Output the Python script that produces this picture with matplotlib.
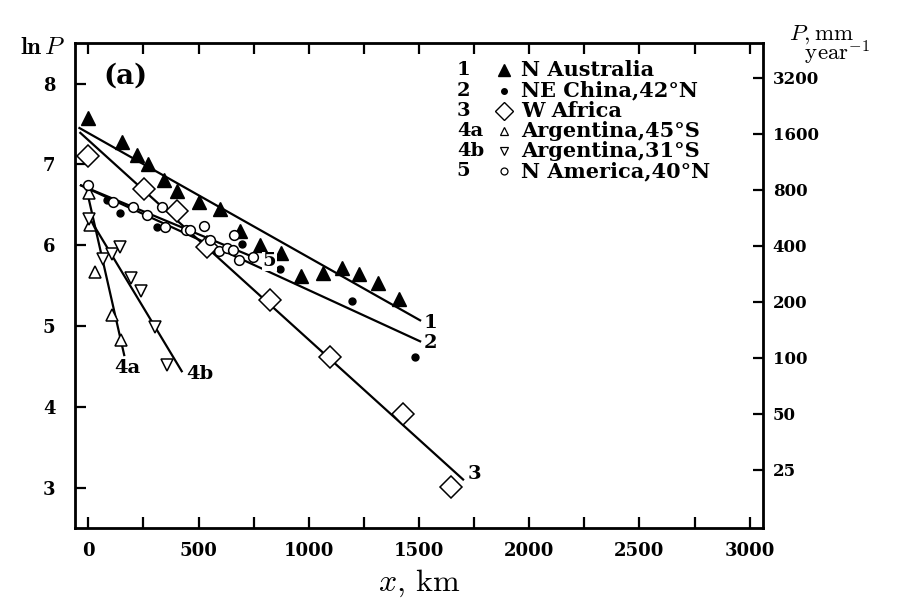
import numpy as np
import matplotlib.pyplot as plt

plt.rcParams['mathtext.fontset'] = 'cm'
plt.rcParams['font.family'] = 'DejaVu Serif'
plt.rcParams['font.weight'] = 'bold'

# data: x in km, y = ln P
x1 = [0, 152, 220, 273, 342, 404, 502, 597, 689, 779, 875, 966, 1064, 1152, 1228, 1315, 1411]
y1 = [7.58, 7.28, 7.12, 7.01, 6.81, 6.67, 6.53, 6.45, 6.17, 6.00, 5.90, 5.62, 5.66, 5.72, 5.64, 5.53, 5.34]
x2 = [85, 142, 310, 698, 868, 1197, 1481]
y2 = [6.56, 6.40, 6.22, 6.01, 5.71, 5.31, 4.61]
x3 = [0, 251, 402, 540, 824, 1096, 1428, 1647]
y3 = [7.10, 6.70, 6.42, 5.98, 5.32, 4.62, 3.91, 3.01]
x4a = [5, 9, 32, 107, 148]
y4a = [6.65, 6.25, 5.67, 5.14, 4.83]
x4b = [3, 69, 107, 142, 192, 240, 302, 359]
y4b = [6.33, 5.83, 5.89, 5.98, 5.60, 5.43, 4.99, 4.52]
x5 = [0, 112, 205, 265, 334, 349, 445, 462, 525, 553, 593, 628, 656, 660, 683, 749]
y5 = [6.75, 6.54, 6.47, 6.37, 6.47, 6.22, 6.19, 6.19, 6.24, 6.06, 5.93, 5.97, 5.94, 6.13, 5.82, 5.85]

# fitted lines (end points)
fit_x = {'1': [-40, 1505], '2': [-33, 1505], '3': [-36, 1700],
         '4a': [-10, 163], '4b': [0, 424], '5': [-33, 760]}
fit_y = {'1': [7.45, 5.07], '2': [6.74, 4.81], '3': [7.39, 3.10],
         '4a': [6.72, 4.64], '4b': [6.36, 4.44], '5': [6.74, 5.84]}
lab_pos = {'1': (1522, 5.04), '2': (1522, 4.79), '3': (1722, 3.17),
           '4a': (118, 4.48), '4b': (445, 4.40), '5': (790, 5.80)}

legend_num = ['1', '2', '3', '4a', '4b', '5']
legend_txt = ['N Australia', 'NE China,42°N', 'W Africa',
              'Argentina,45°S', 'Argentina,31°S', 'N America,40°N']

P_ticks = [25, 50, 100, 200, 400, 800, 1600, 3200]

fig = plt.figure(figsize=(9.04, 6.03), dpi=100)
ax = fig.add_axes([0.083, 0.1244, 0.761, 0.804])

for k in fit_x:
    ax.plot(fit_x[k], fit_y[k], color='black', lw=1.6)

ax.plot(x1, y1, '^', color='black', ms=10, ls='none')
ax.plot(x2, y2, 'o', color='black', ms=5, ls='none')
ax.plot(x3, y3, 'D', mfc='white', mec='black', mew=1.1, ms=11, ls='none')
ax.plot(x4a, y4a, '^', mfc='white', mec='black', mew=1.1, ms=9, ls='none')
ax.plot(x4b, y4b, 'v', mfc='white', mec='black', mew=1.1, ms=9, ls='none')
ax.plot(x5, y5, 'o', mfc='white', mec='black', mew=1.1, ms=7, ls='none')

for k, (tx, ty) in lab_pos.items():
    ax.text(tx, ty, k, fontsize=14, ha='left', va='center',
            bbox=dict(fc='white', ec='none', pad=0.5) if k == '5' else None)

ax.text(168, 8.09, '(a)', fontsize=20, ha='center', va='center')

# legend block, top right
mk = [dict(marker='^', color='black', ms=8),
      dict(marker='o', color='black', ms=4),
      dict(marker='D', mfc='white', mec='black', ms=9, mew=1),
      dict(marker='^', mfc='white', mec='black', ms=6, mew=0.9),
      dict(marker='v', mfc='white', mec='black', ms=6, mew=0.9),
      dict(marker='o', mfc='white', mec='black', ms=5, mew=0.9)]
for i in range(6):
    yy = 0.944 - i * 0.0417
    ax.text(0.555, yy, legend_num[i], transform=ax.transAxes,
            fontsize=14, ha='left', va='center')
    ax.plot([0.624], [yy], transform=ax.transAxes, ls='none', **mk[i])
    ax.text(0.648, yy, legend_txt[i], transform=ax.transAxes,
            fontsize=15, ha='left', va='center')

ax.set_xlim(-60, 3060)
ax.set_ylim(2.5, 8.5)
xt = np.arange(0, 3001, 250)
ax.set_xticks(xt)
ax.set_xticklabels([str(v) if v % 500 == 0 else '' for v in xt], fontsize=13)
yt = [3, 4, 5, 6, 7, 8]
ax.set_yticks(yt)
ax.set_yticklabels([str(v) for v in yt], fontsize=13)
ax.tick_params(direction='in', length=8, width=1.6, top=True, labeltop=False)
ax.tick_params(axis='x', pad=10)
ax.tick_params(axis='y', right=False, pad=14)
for s in ax.spines.values():
    s.set_linewidth(2)

ax2 = ax.twinx()
ax2.set_ylim(ax.get_ylim())
ax2.set_yticks(np.log(P_ticks))
ax2.set_yticklabels([str(p) for p in P_ticks], fontsize=12)
ax2.tick_params(direction='in', length=7, width=1.6, pad=7)

fig.text(0.4635, 0.033, r'$x,\,\mathrm{km}$', fontsize=23, ha='center', va='center')
fig.text(0.022, 0.922, r'$\mathbf{ln}\,P$', fontsize=18, ha='left', va='center')
fig.text(0.873, 0.962, r'$P,\mathrm{mm}$' + '\n' + r'  $\mathrm{year}^{-1}$',
         fontsize=16.5, ha='left', va='top', linespacing=0.7)

fig.savefig('out.png', dpi=100)
